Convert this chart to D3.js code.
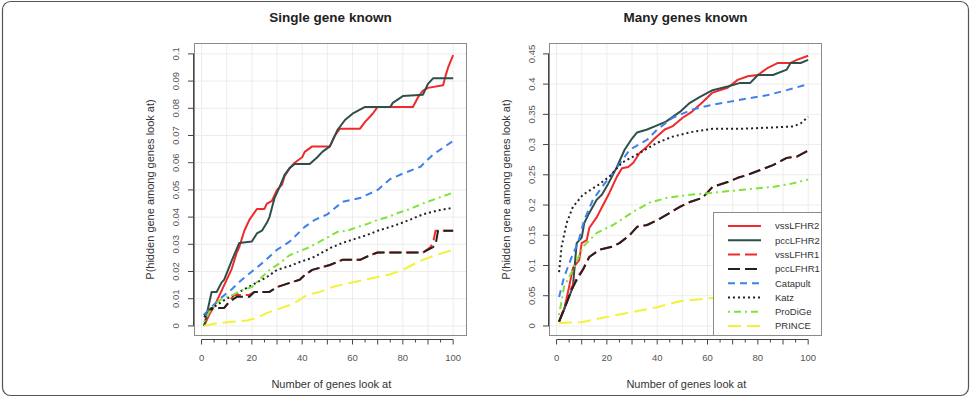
<!DOCTYPE html>
<html><head><meta charset="utf-8">
<script src="https://cdn.jsdelivr.net/npm/d3@7"></script>
<style>html,body{margin:0;padding:0;background:#fff}svg{display:block;font-family:"Liberation Sans",Arial,sans-serif}</style>
</head><body><svg id="c" width="971" height="398"></svg>
<script>
// ---------- DATA ----------
const seriesNames = ["vssLFHR2","pccLFHR2","vssLFHR1","pccLFHR1","Catapult","Katz","ProDiGe","PRINCE"];
const panelTitles = ["Single gene known","Many genes known"];
const xTicks = [0,20,40,60,80,100];
const yTicksSingle = [0,0.01,0.02,0.03,0.04,0.05,0.06,0.07,0.08,0.09,0.1];
const yLabelsSingle = ["0","0.01","0.02","0.03","0.04","0.05","0.06","0.07","0.08","0.09","0.1"];
const yTicksMany = [0,0.05,0.1,0.15,0.2,0.25,0.3,0.35,0.4,0.45];
const yLabelsMany = ["0","0.05","0.1","0.15","0.2","0.25","0.3","0.35","0.4","0.45"];

// Single gene known
const s_vssLFHR2 = [[1,0],[3,0.004],[6,0.009],[9,0.015],[12,0.021],[14,0.027],[15,0.029],[17,0.035],[19,0.039],[22,0.043],[25,0.043],[26,0.045],[28,0.046],[30,0.05],[32,0.052],[33,0.055],[35,0.058],[37,0.06],[40,0.062],[41,0.064],[44,0.066],[51,0.066],[53,0.07],[55,0.0725],[63,0.0725],[65,0.075],[68,0.078],[70,0.0805],[84,0.0805],[86,0.084],[88,0.0865],[90,0.0875],[96,0.0885],[97,0.092],[98,0.095],[100,0.0995]];
const s_pccLFHR2 = [[1,0],[2,0.004],[4,0.0125],[6,0.0125],[8,0.016],[9,0.017],[12,0.024],[15,0.0305],[20,0.031],[22,0.034],[24,0.035],[26,0.038],[27,0.04],[29,0.047],[31,0.051],[33,0.0555],[35,0.058],[37,0.0595],[43,0.0595],[46,0.062],[48,0.064],[51,0.066],[54,0.072],[57,0.0757],[60,0.078],[65,0.0805],[75,0.0805],[76,0.082],[80,0.0845],[88,0.085],[90,0.089],[92,0.091],[100,0.091]];
const s_vssLFHR1 = [[1,0.004],[4,0.0066],[9,0.0066],[11,0.009],[13,0.0114],[19,0.0114],[21,0.0125],[27,0.0125],[30,0.0143],[39,0.017],[41,0.0187],[44,0.0206],[51,0.0224],[56,0.0243],[63,0.0243],[67,0.026],[70,0.027],[88,0.027],[91,0.029],[92,0.0305],[93,0.035],[100,0.035]];
const s_pccLFHR1 = [[1,0.004],[4,0.0066],[9,0.0066],[11,0.0088],[14,0.0107],[19,0.0107],[21,0.0125],[27,0.0125],[30,0.0143],[39,0.017],[41,0.0187],[44,0.0206],[51,0.0224],[56,0.0243],[63,0.0243],[67,0.026],[70,0.027],[88,0.027],[92,0.029],[93,0.0298],[94,0.035],[100,0.035]];
const s_Catapult = [[1,0.004],[4,0.007],[8,0.0105],[12,0.0135],[16,0.017],[20,0.02],[24,0.023],[30,0.028],[35,0.031],[41,0.0364],[45,0.039],[50,0.041],[56,0.0456],[63,0.047],[70,0.05],[75,0.054],[80,0.056],[87,0.0585],[92,0.063],[100,0.068]];
const s_Katz = [[1,0.0033],[6,0.0077],[10,0.01],[14,0.012],[18,0.014],[22,0.016],[26,0.018],[30,0.0206],[35,0.022],[39,0.0235],[44,0.025],[48,0.027],[52,0.029],[56,0.0305],[61,0.032],[66,0.0335],[70,0.035],[75,0.0364],[80,0.038],[88,0.041],[94,0.0425],[100,0.0434]];
const s_ProDiGe = [[1,0.0015],[3,0.005],[6,0.0085],[9,0.0105],[12.5,0.0114],[16,0.013],[20,0.0143],[24,0.018],[27,0.0206],[31,0.023],[35,0.026],[39,0.0275],[43,0.029],[49,0.032],[54,0.0346],[58,0.035],[62,0.0364],[66,0.0375],[70,0.039],[74,0.04],[78,0.0415],[83,0.043],[88,0.045],[94,0.047],[100,0.049]];
const s_PRINCE = [[1,0],[6,0.001],[12,0.0015],[18,0.002],[22,0.003],[26,0.0048],[30,0.006],[35,0.0077],[38,0.009],[42,0.0114],[47,0.0125],[51,0.014],[55,0.015],[60,0.016],[65,0.017],[70,0.018],[75,0.019],[80,0.0206],[85,0.023],[88,0.0243],[93,0.026],[100,0.028]];

// Many genes known
const m_vssLFHR2 = [[1,0.007],[3,0.0265],[5,0.065],[6.5,0.096],[9,0.109],[10,0.137],[12,0.142],[13,0.162],[16,0.18],[18.5,0.2],[21,0.22],[24,0.247],[26,0.261],[28.5,0.263],[30.5,0.27],[33,0.286],[36,0.297],[39,0.31],[43,0.325],[46,0.33],[50,0.344],[54,0.355],[58,0.37],[62,0.386],[68,0.394],[72,0.407],[76,0.413],[80,0.415],[84,0.427],[88,0.435],[93,0.435],[95.5,0.44],[100,0.447]];
const m_pccLFHR2 = [[1,0.007],[5,0.048],[6.5,0.065],[8,0.137],[10,0.146],[11,0.17],[13,0.187],[16,0.209],[18,0.217],[20.5,0.235],[24,0.263],[27,0.291],[30,0.31],[32,0.32],[36,0.325],[39,0.33],[43.5,0.338],[49,0.354],[53,0.369],[57,0.379],[62,0.39],[68,0.396],[73,0.402],[77,0.402],[80,0.415],[86,0.415],[91.5,0.424],[93,0.435],[97,0.435],[100,0.44]];
const m_vssLFHR1 = [[1,0.007],[4,0.041],[6,0.064],[8,0.079],[10.5,0.094],[13,0.114],[17,0.126],[22,0.131],[25,0.137],[29,0.15],[32,0.164],[36,0.167],[40,0.175],[45,0.187],[49,0.197],[53,0.205],[58,0.212],[62,0.23],[68,0.238],[72,0.245],[76,0.25],[81,0.258],[86,0.266],[91.5,0.278],[95.5,0.28],[100,0.29]];
const m_pccLFHR1 = [[1,0.007],[4,0.038],[6,0.06],[8,0.076],[10.5,0.093],[13,0.114],[17,0.126],[22,0.131],[25,0.137],[29,0.15],[32,0.164],[36,0.167],[40,0.175],[45,0.187],[49,0.197],[53,0.205],[58,0.212],[62,0.23],[68,0.238],[72,0.245],[76,0.25],[81,0.258],[86,0.266],[91.5,0.278],[95.5,0.28],[100,0.29]];
const m_Catapult = [[1,0.048],[3,0.081],[6,0.114],[8.5,0.137],[11,0.175],[14.5,0.209],[19,0.235],[24,0.262],[29,0.291],[36,0.308],[40,0.325],[46,0.344],[54,0.358],[62,0.366],[73,0.374],[84,0.382],[91.5,0.39],[100,0.4]];
const m_Katz = [[1,0.089],[2,0.131],[4,0.17],[6.5,0.197],[10.5,0.217],[16.5,0.233],[21,0.247],[26,0.27],[33,0.286],[40,0.303],[46,0.313],[54,0.321],[62,0.326],[73,0.326],[84,0.328],[94,0.33],[97,0.335],[100,0.346]];
const m_ProDiGe = [[1,0.018],[3,0.065],[6.5,0.093],[10.5,0.131],[16,0.154],[22.5,0.167],[30.5,0.189],[37,0.204],[44,0.212],[53,0.217],[61,0.22],[73,0.225],[86,0.23],[93,0.235],[100,0.242]];
const m_PRINCE = [[1,0.005],[10.5,0.0066],[20,0.015],[30,0.023],[40,0.031],[49,0.041],[61,0.046],[70,0.05],[80,0.054],[90,0.058],[100,0.062]];

// ---------- STYLE ----------
const styles = {
  vssLFHR2:{color:"#f02a2a",dash:null},
  pccLFHR2:{color:"#2f4f4a",dash:null},
  vssLFHR1:{color:"#f02a2a",dash:"12,5"},
  pccLFHR1:{color:"#222222",dash:"12,5"},
  Catapult:{color:"#3f80ea",dash:"7,5"},
  Katz:{color:"#222222",dash:"2,3"},
  ProDiGe:{color:"#7fe338",dash:"2,4,7,4"},
  PRINCE:{color:"#f2f23a",dash:"13,6"}
};

const panels = [
  {title:panelTitles[0], box:[194,467,43,336], yDom:[-0.0037,0.104], yt:yTicksSingle, yl:yLabelsSingle, ylabX:150, tickLabX:176,
   data:[s_vssLFHR2,s_pccLFHR2,s_vssLFHR1,s_pccLFHR1,s_Catapult,s_Katz,s_ProDiGe,s_PRINCE], legend:false},
  {title:panelTitles[1], box:[549,822,43,336], yDom:[-0.0166,0.468], yt:yTicksMany, yl:yLabelsMany, ylabX:506, tickLabX:532,
   data:[m_vssLFHR2,m_pccLFHR2,m_vssLFHR1,m_pccLFHR1,m_Catapult,m_Katz,m_ProDiGe,m_PRINCE], legend:true}
];

const svg = d3.select("#c");
svg.append("rect").attr("x",2.5).attr("y",1.5).attr("width",966).attr("height",394)
  .attr("rx",8).attr("fill","none").attr("stroke","#555").attr("stroke-width",1.2);

panels.forEach(p=>{
  const [L,R,T,B] = p.box;
  const x = d3.scaleLinear().domain([-3,105.5]).range([L,R]);
  const y = d3.scaleLinear().domain(p.yDom).range([B,T]);
  const g = svg.append("g");
  // grid
  d3.range(0,101,10).forEach(v=>{
    g.append("line").attr("x1",x(v)).attr("x2",x(v)).attr("y1",T).attr("y2",B)
      .attr("stroke","#ececec").attr("stroke-width",1);
  });
  p.yt.forEach(v=>{
    g.append("line").attr("x1",L).attr("x2",R).attr("y1",y(v)).attr("y2",y(v))
      .attr("stroke","#ececec").attr("stroke-width",1);
  });
  // lines
  const line = d3.line().x(d=>x(d[0])).y(d=>y(d[1]));
  seriesNames.forEach((n,i)=>{
    const st = styles[n];
    g.append("path").datum(p.data[i]).attr("d",line).attr("fill","none")
      .attr("stroke",st.color).attr("stroke-width",2).attr("stroke-linejoin","round")
      .attr("stroke-dasharray",st.dash);
  });
  // box
  g.append("rect").attr("x",L+0.5).attr("y",T+0.5).attr("width",R-L-1).attr("height",B-T-1)
    .attr("fill","none").attr("stroke","#8a8a8a").attr("stroke-width",1);
  // y axis
  g.append("line").attr("x1",L-0.5).attr("x2",L-0.5).attr("y1",y(p.yt[0])).attr("y2",y(p.yt[p.yt.length-1]))
    .attr("stroke","#444");
  p.yt.forEach((v,i)=>{
    g.append("line").attr("x1",L-6).attr("x2",L).attr("y1",y(v)).attr("y2",y(v)).attr("stroke","#444");
    g.append("text").attr("transform",`translate(${p.tickLabX},${y(v)}) rotate(-90)`)
      .attr("text-anchor","middle").attr("dy","0.35em").attr("font-size",9.5).attr("fill","#555").text(p.yl[i]);
  });
  // x axis
  const ay = 339.5;
  g.append("line").attr("x1",x(0)).attr("x2",x(100)).attr("y1",ay).attr("y2",ay).attr("stroke","#444");
  d3.range(0,101,5).forEach(v=>{
    g.append("line").attr("x1",x(v)).attr("x2",x(v)).attr("y1",ay).attr("y2",ay+(v%10===0?5:3)).attr("stroke","#444");
  });
  xTicks.forEach(v=>{
    g.append("text").attr("x",x(v)).attr("y",361).attr("text-anchor","middle")
      .attr("font-size",9.5).attr("fill","#555").text(v);
  });
  // titles
  g.append("text").attr("x",(L+R)/2).attr("y",22).attr("text-anchor","middle")
    .attr("font-size",13.5).attr("font-weight","bold").attr("fill","#222").text(p.title);
  g.append("text").attr("x",(x(0)+x(100))/2+4).attr("y",388).attr("text-anchor","middle")
    .attr("font-size",11).attr("fill","#333").text("Number of genes look at");
  g.append("text").attr("transform",`translate(${p.ylabX},${(T+B)/2}) rotate(-90)`)
    .attr("text-anchor","middle").attr("dy","0.35em").attr("font-size",11).attr("fill","#333")
    .text("P(hidden gene among genes look at)");
  // legend
  if(p.legend){
    const lx=713, ly=212;
    g.append("rect").attr("x",lx+0.5).attr("y",ly+0.5).attr("width",R-lx-1).attr("height",B-ly-1)
      .attr("fill","#fff").attr("stroke","#8a8a8a");
    seriesNames.forEach((n,i)=>{
      const st=styles[n]; const yy=226+i*14.3;
      g.append("line").attr("x1",728).attr("x2",761).attr("y1",yy).attr("y2",yy)
        .attr("stroke",st.color).attr("stroke-width",2).attr("stroke-dasharray",st.dash);
      g.append("text").attr("x",775).attr("y",yy).attr("dy","0.35em").attr("font-size",9.5)
        .attr("fill","#333").text(n);
    });
  }
});
</script></body></html>
